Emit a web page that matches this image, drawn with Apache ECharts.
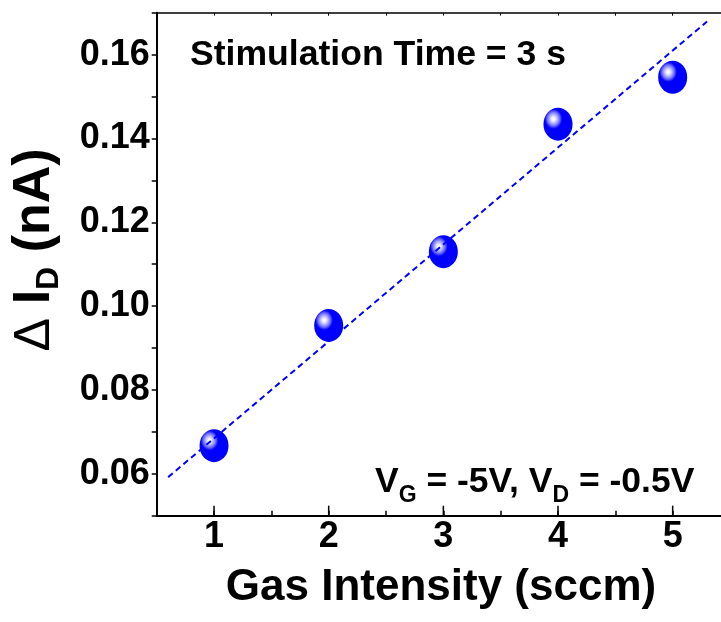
<!DOCTYPE html>
<html>
<head>
<meta charset="utf-8">
<script src="https://cdn.jsdelivr.net/npm/echarts@6/dist/echarts.min.js"></script>
<style>
html,body{margin:0;padding:0;background:#fff;}
#chart{width:721px;height:622px;}
</style>
</head>
<body>
<div id="chart"></div>
<script>
// ---- data ----
const gasIntensity = [1, 2, 3, 4, 5];
const deltaID = [0.0667, 0.0954, 0.1130, 0.1434, 0.1546];
const fitX = [0.6, 5.3];
const fitY = [0.0592, 0.1679];
const xMajorTicks = [1, 2, 3, 4, 5];
const yTickLabels = ['0.06', '0.08', '0.10', '0.12', '0.14', '0.16'];
const xTitle = 'Gas Intensity (sccm)';
const noteTop = 'Stimulation Time = 3 s';

const FONT = '"Liberation Sans", Arial, sans-serif';
const chart = echarts.init(document.getElementById('chart'), null, {renderer: 'canvas'});

const ballColor = new echarts.graphic.RadialGradient(0.345, 0.34, 0.3, [
  {offset: 0, color: '#ffffff'},
  {offset: 0.2, color: '#f0f0ff'},
  {offset: 0.4, color: '#c0c0ff'},
  {offset: 0.7, color: '#7070ff'},
  {offset: 1, color: '#0000ff'}
]);

const option = {
  animation: false,
  backgroundColor: '#ffffff',
  grid: {left: 156.7, top: 12.7, right: -9, bottom: 106.3, containLabel: false, outerBoundsMode: 'none'},
  xAxis: [{
    type: 'value', position: 'bottom', min: 0.5, max: 5.5, interval: 0.5,
    axisLine: {show: true, onZero: false, lineStyle: {color: '#000', width: 2}},
    axisTick: {show: true, inside: true, length: 5, lineStyle: {color: '#000', width: 1.5}},
    axisLabel: {
      show: true, margin: 3, color: '#000', fontFamily: FONT, fontWeight: 'bold', fontSize: 36,
      formatter: v => (xMajorTicks.indexOf(Math.round(v * 10) / 10) >= 0 ? String(Math.round(v)) : '')
    },
    splitLine: {show: false}
  }, {
    type: 'value', position: 'top', min: 0.5, max: 5.5, interval: 0.5,
    axisLine: {show: true, onZero: false, lineStyle: {color: '#000', width: 1.5}},
    axisTick: {show: true, inside: true, length: 3, lineStyle: {color: '#000', width: 1}},
    axisLabel: {show: false},
    splitLine: {show: false}
  }],
  yAxis: [{
    type: 'value', position: 'left', min: 0.05, max: 0.17, interval: 0.01,
    axisLine: {show: true, onZero: false, lineStyle: {color: '#000', width: 2}},
    axisTick: {show: true, inside: false, length: 5, lineStyle: {color: '#000', width: 1.5}},
    axisLabel: {
      show: true, margin: 7, color: '#000', fontFamily: FONT, fontWeight: 'bold', fontSize: 36,
      formatter: v => {
        const s = v.toFixed(2);
        return yTickLabels.indexOf(s) >= 0 ? s : '';
      }
    },
    splitLine: {show: false}
  }],
  series: [{
    type: 'scatter',
    data: gasIntensity.map((x, i) => [x, deltaID[i]]),
    symbol: 'path://M0,1 A1,1 0 1,1 2,1 A1,1 0 1,1 0,1 Z',
    symbolSize: [29, 33],
    itemStyle: {color: ballColor, opacity: 1},
    z: 2
  }, {
    type: 'line',
    data: fitX.map((x, i) => [x, fitY[i]]),
    showSymbol: false, symbol: 'none',
    lineStyle: {color: '#0000ff', width: 2, type: [6, 4]},
    z: 3
  }, {
    type: 'custom',
    data: xMajorTicks.map(v => [v]),
    renderItem: function (params, api) {
      const p = api.coord([api.value(0), 0.05]);
      return {type: 'line', shape: {x1: p[0], y1: p[1], x2: p[0], y2: p[1] - 10},
              style: {stroke: '#000', lineWidth: 1.5}};
    },
    z: 4, silent: true
  }],
  graphic: [{
    type: 'text', left: 190, top: 37,
    style: {text: noteTop, fill: '#000', font: 'bold 35.6px ' + FONT}
  }, {
    type: 'text', x: 375, y: 482,
    style: {
      text: '{m|V}{s|G}{m| = -5V, V}{s|D}{m| = -0.5V}',
      align: 'left', verticalAlign: 'middle',
      rich: {
        m: {fontFamily: FONT, fontWeight: 'bold', fontSize: 35.5, lineHeight: 50, verticalAlign: 'middle', fill: '#000'},
        s: {fontFamily: FONT, fontWeight: 'bold', fontSize: 23, lineHeight: 23, verticalAlign: 'bottom', fill: '#000'}
      }
    }
  }, {
    type: 'text', x: 441, y: 588,
    style: {text: xTitle, fill: '#000', font: 'bold 44px ' + FONT, align: 'center', verticalAlign: 'middle'}
  }, {
    type: 'text', x: 35, y: 250, rotation: Math.PI / 2,
    style: {
      text: '{d|\u0394 }{m|I}{s|D}{m| (nA)}',
      align: 'center', verticalAlign: 'middle',
      rich: {
        d: {fontFamily: FONT, fontWeight: 'normal', fontSize: 50, lineHeight: 60, verticalAlign: 'middle', fill: '#000'},
        m: {fontFamily: FONT, fontWeight: 'bold', fontSize: 52, lineHeight: 60, verticalAlign: 'middle', fill: '#000'},
        s: {fontFamily: FONT, fontWeight: 'bold', fontSize: 32, lineHeight: 32, verticalAlign: 'bottom', fill: '#000'}
      }
    }
  }]
};
chart.setOption(option);
</script>
</body>
</html>
